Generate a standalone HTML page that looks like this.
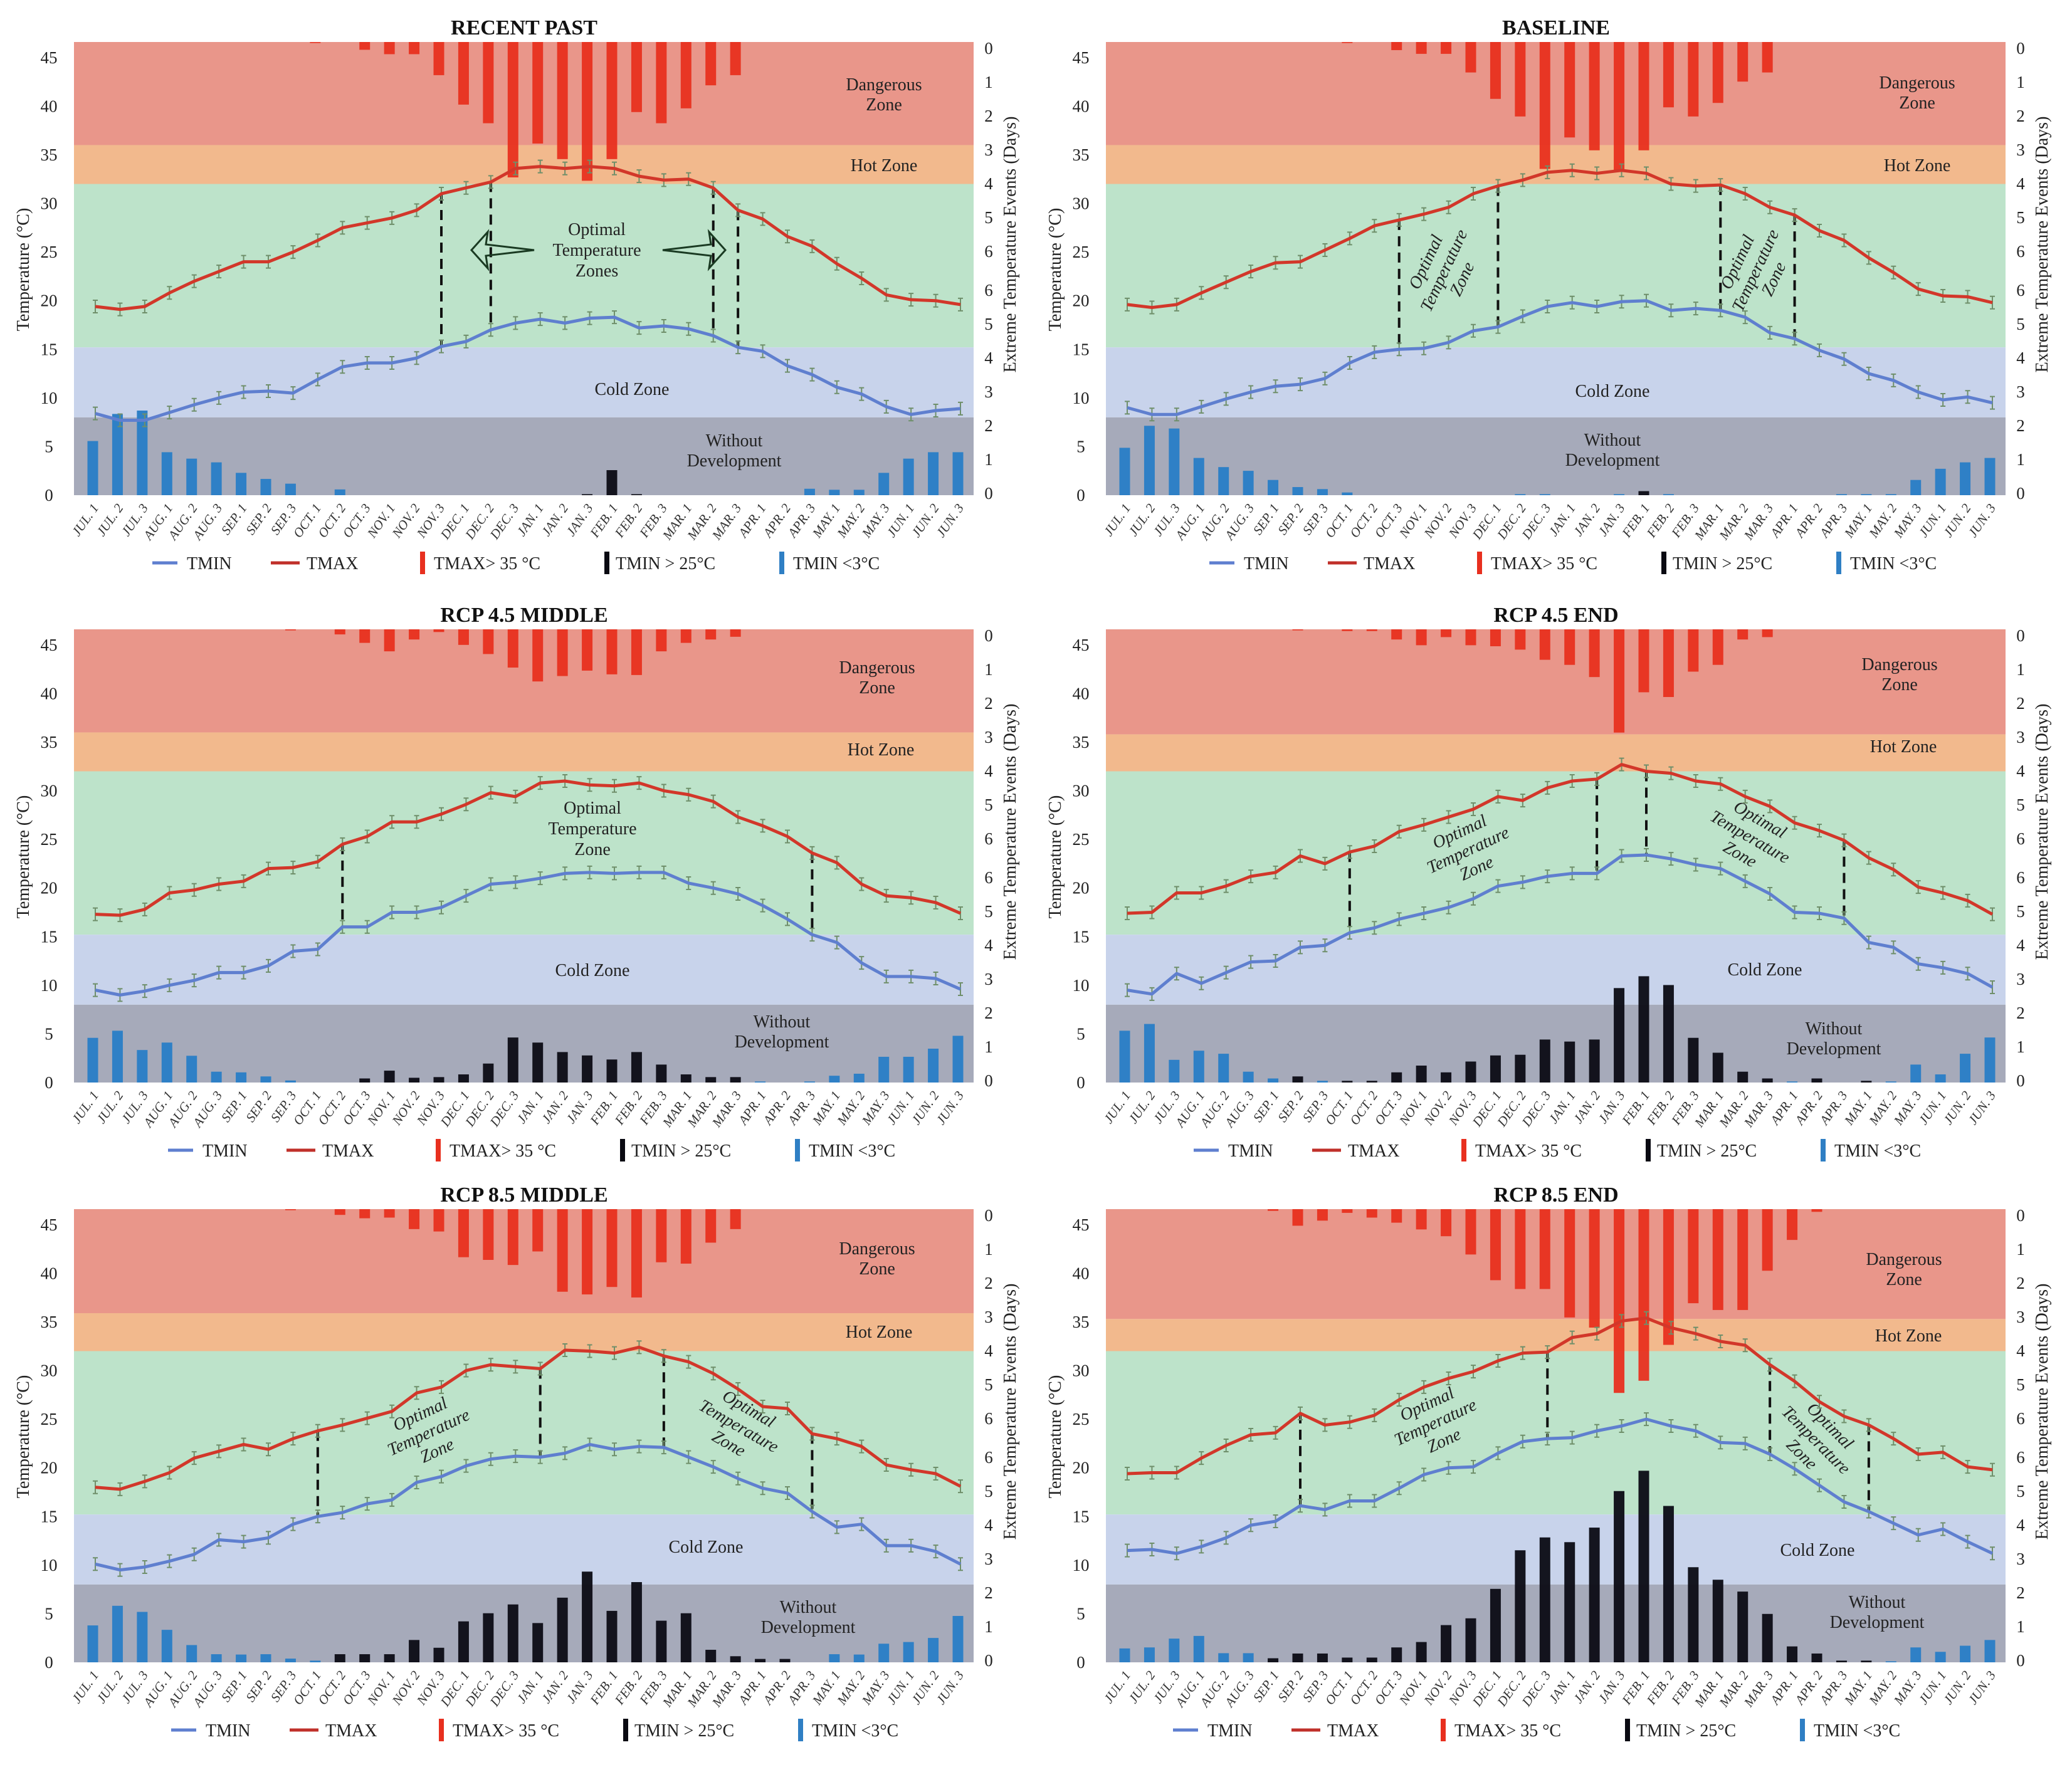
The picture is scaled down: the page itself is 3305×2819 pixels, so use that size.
<!DOCTYPE html>
<html><head><meta charset="utf-8"><style>
html,body{margin:0;padding:0;background:#fff;}
svg{display:block;font-family:"Liberation Serif",serif;}
</style></head><body>
<svg id="chart" width="3305" height="2819" viewBox="0 0 3305 2819" xmlns="http://www.w3.org/2000/svg"></svg>
<script>
const categories = ["JUL. 1","JUL. 2","JUL. 3","AUG. 1","AUG. 2","AUG. 3","SEP. 1","SEP. 2","SEP. 3","OCT. 1","OCT. 2","OCT. 3","NOV. 1","NOV. 2","NOV. 3","DEC. 1","DEC. 2","DEC. 3","JAN. 1","JAN. 2","JAN. 3","FEB. 1","FEB. 2","FEB. 3","MAR. 1","MAR. 2","MAR. 3","APR. 1","APR. 2","APR. 3","MAY. 1","MAY. 2","MAY. 3","JUN. 1","JUN. 2","JUN. 3"];
const leftTicks = [0,5,10,15,20,25,30,35,40,45];
const rightTicks = [0,1,2,3,4,5,6];

const rp_tmax = [19.4,19.1,19.4,20.8,22,23,24,24,25,26.2,27.5,28,28.5,29.3,31,31.6,32.2,33.6,33.8,33.6,33.8,33.6,32.8,32.4,32.5,31.6,29.3,28.4,26.6,25.6,23.8,22.3,20.6,20.1,20,19.6];
const rp_tmin = [8.4,7.7,7.7,8.5,9.3,10,10.6,10.7,10.5,11.9,13.2,13.6,13.6,14.1,15.3,15.8,17,17.7,18.1,17.7,18.2,18.3,17.2,17.4,17.1,16.4,15.2,14.8,13.3,12.4,11.1,10.4,9.1,8.3,8.7,8.9];
const rp_hot = [0,0,0,0,0,0,0,0,0,0.03,0,0.23,0.36,0.36,0.98,1.85,2.4,4.0,3.0,3.46,4.1,3.46,2.07,2.4,1.96,1.28,0.98,0,0,0,0,0,0,0,0,0];
const rp_tn25 = [0,0,0,0,0,0,0,0,0,0,0,0,0,0,0,0,0,0,0,0,0.03,0.74,0.03,0,0,0,0,0,0,0,0,0,0,0,0,0];
const rp_tn3 = [1.6,2.4,2.5,1.27,1.08,0.97,0.66,0.48,0.34,0,0.17,0,0,0,0,0,0,0,0,0,0,0,0,0,0,0,0,0,0,0.19,0.16,0.16,0.66,1.08,1.27,1.27];

const bl_tmax = [19.6,19.3,19.6,20.8,21.9,23,23.9,24,25.2,26.4,27.7,28.3,28.9,29.6,31,31.8,32.4,33.2,33.4,33.1,33.4,33.1,32,31.8,31.9,31,29.6,28.8,27.2,26.2,24.4,22.9,21.2,20.5,20.4,19.8];
const bl_tmin = [9,8.3,8.3,9.1,9.9,10.6,11.2,11.4,12,13.6,14.7,15,15.1,15.7,16.9,17.3,18.4,19.4,19.8,19.4,19.9,20,19,19.2,19,18.3,16.7,16.1,14.9,14,12.5,11.8,10.6,9.8,10.1,9.5];
const bl_hot = [0,0,0,0,0,0,0,0,0,0.03,0,0.24,0.35,0.35,0.9,1.68,2.2,3.75,2.82,3.2,3.8,3.2,1.93,2.2,1.8,1.17,0.9,0,0,0,0,0,0,0,0,0];
const bl_tn25 = [0,0,0,0,0,0,0,0,0,0,0,0,0,0,0,0,0,0,0,0,0,0.12,0,0,0,0,0,0,0,0,0,0,0,0,0,0];
const bl_tn3 = [1.4,2.05,1.97,1.1,0.83,0.72,0.45,0.24,0.18,0.08,0,0,0,0,0,0,0.03,0.03,0,0,0.03,0,0.03,0,0,0,0,0,0,0.03,0.03,0.03,0.45,0.78,0.97,1.1];

const m45_tmax = [17.3,17.2,17.8,19.5,19.8,20.4,20.7,22,22.1,22.7,24.5,25.3,26.8,26.8,27.6,28.6,29.8,29.4,30.8,31,30.6,30.5,30.8,30,29.6,28.9,27.3,26.4,25.3,23.6,22.6,20.4,19.2,19,18.5,17.4];
const m45_tmin = [9.5,9,9.4,10,10.5,11.3,11.3,12,13.5,13.7,16,16,17.5,17.5,18,19.2,20.4,20.6,21,21.5,21.6,21.5,21.6,21.6,20.5,20,19.4,18.2,16.8,15.2,14.4,12.3,10.9,10.9,10.7,9.6];
const m45_hot = [0,0,0,0,0,0,0,0,0.03,0,0.15,0.4,0.65,0.3,0.08,0.46,0.73,1.13,1.54,1.38,1.22,1.33,1.35,0.65,0.4,0.3,0.22,0,0,0,0,0,0,0,0,0];
const m45_tn25 = [0,0,0,0,0,0,0,0,0,0,0,0.12,0.35,0.14,0.16,0.24,0.56,1.33,1.18,0.9,0.8,0.68,0.9,0.53,0.24,0.16,0.16,0,0,0,0,0,0,0,0,0];
const m45_tn3 = [1.32,1.53,0.96,1.18,0.79,0.32,0.3,0.18,0.06,0,0,0,0,0,0,0,0,0,0,0,0,0,0,0,0,0,0,0.03,0,0.03,0.2,0.26,0.76,0.76,1.0,1.38];

const e45_tmax = [17.4,17.5,19.5,19.5,20.2,21.2,21.6,23.3,22.5,23.7,24.3,25.8,26.5,27.3,28.1,29.4,29,30.3,31,31.2,32.7,32,31.8,31,30.7,29.4,28.4,26.7,25.9,24.9,23.1,21.9,20.1,19.5,18.7,17.3];
const e45_tmin = [9.5,9.1,11.2,10.2,11.3,12.4,12.5,13.9,14.1,15.4,15.9,16.8,17.4,18,18.9,20.2,20.6,21.2,21.5,21.5,23.3,23.4,23,22.4,22,20.7,19.4,17.5,17.4,16.9,14.4,13.9,12.2,11.8,11.2,9.8];
const e45_hot = [0,0,0,0,0,0,0,0.03,0,0.05,0.05,0.3,0.47,0.23,0.47,0.5,0.6,0.9,1.05,1.41,3.05,1.86,2.0,1.25,1.05,0.3,0.23,0,0,0,0,0,0,0,0,0];
const e45_tn25 = [0,0,0,0,0,0,0,0.18,0,0.05,0.05,0.3,0.5,0.3,0.62,0.8,0.82,1.27,1.21,1.27,2.79,3.14,2.88,1.32,0.88,0.32,0.12,0,0.12,0,0.05,0,0,0,0,0];
const e45_tn3 = [1.53,1.73,0.67,0.94,0.85,0.32,0.12,0,0.05,0,0,0,0,0,0,0,0,0,0,0,0,0,0,0,0,0,0,0.03,0,0,0,0.03,0.53,0.24,0.85,1.33];

const m85_tmax = [18,17.8,18.6,19.5,21,21.7,22.4,21.9,23,23.8,24.4,25.1,25.8,27.7,28.3,30,30.6,30.4,30.2,32.1,32,31.8,32.4,31.5,30.9,29.7,28.1,26.3,26.1,23.5,23,22.2,20.3,19.8,19.4,18.1];
const m85_tmin = [10.1,9.5,9.8,10.4,11.1,12.6,12.4,12.8,14.2,15,15.4,16.3,16.7,18.5,19.1,20.2,20.9,21.2,21.1,21.5,22.4,21.9,22.2,22.1,21.1,20.1,18.9,17.9,17.4,15.5,13.9,14.2,12,12,11.4,10.1];
const m85_hot = [0,0,0,0,0,0,0,0,0.03,0,0.17,0.27,0.25,0.59,0.66,1.42,1.5,1.65,1.25,2.44,2.52,2.3,2.61,1.57,1.61,0.99,0.59,0,0,0,0,0,0,0,0,0];
const m85_tn25 = [0,0,0,0,0,0,0,0,0,0,0.24,0.24,0.24,0.66,0.43,1.21,1.45,1.71,1.16,1.91,2.68,1.52,2.37,1.23,1.45,0.37,0.18,0.1,0.1,0,0,0,0,0,0,0];
const m85_tn3 = [1.09,1.67,1.49,0.96,0.51,0.24,0.23,0.24,0.11,0.05,0,0,0,0,0,0,0,0,0,0,0,0,0,0,0,0,0,0,0,0,0.24,0.23,0.55,0.6,0.72,1.37];

const e85_tmax = [19.4,19.5,19.5,21,22.3,23.4,23.6,25.6,24.4,24.7,25.4,27,28.3,29.2,29.9,31,31.8,31.9,33.4,33.8,35.1,35.4,34.4,33.8,33,32.6,30.6,28.9,26.8,25.3,24.4,23,21.4,21.6,20.1,19.8];
const e85_tmin = [11.5,11.6,11.2,11.9,12.8,14.1,14.5,16.1,15.7,16.6,16.6,17.9,19.3,20,20.1,21.5,22.7,23,23.1,23.8,24.3,25,24.3,23.8,22.6,22.5,21.4,19.9,18.2,16.5,15.5,14.3,13.1,13.7,12.4,11.2];
const e85_hot = [0,0,0,0,0,0,0.05,0.49,0.34,0.11,0.25,0.4,0.6,0.8,1.34,2.1,2.36,2.36,3.2,3.5,5.43,5.07,4.01,2.78,2.98,2.98,1.82,0.91,0.08,0,0,0,0,0,0,0];
const e85_tn25 = [0,0,0,0,0,0,0.12,0.26,0.26,0.14,0.14,0.44,0.6,1.1,1.3,2.17,3.31,3.69,3.55,3.98,5.06,5.66,4.62,2.81,2.44,2.09,1.43,0.47,0.26,0.05,0.05,0,0,0,0,0];
const e85_tn3 = [0.41,0.44,0.7,0.78,0.27,0.27,0,0,0,0,0,0,0,0,0,0,0,0,0,0,0,0,0,0,0,0,0,0,0,0,0,0.03,0.44,0.31,0.49,0.66];

const NS = "http://www.w3.org/2000/svg";
const svg = document.getElementById('chart');
function el(tag, attrs, parent){const e=document.createElementNS(NS,tag);for(const k in attrs)e.setAttribute(k,attrs[k]);(parent||svg).appendChild(e);return e;}

const X0=118, X1=1553, Y0=67, Y1=790, TMAXDOMAIN=46.6, DAYPX=54;
const xFirst=X0+34, xLast=X1-21;
function xs(i){return xFirst+i*(xLast-xFirst)/(categories.length-1);}
function ys(v){return Y1-(v/TMAXDOMAIN)*(Y1-Y0);}
function dTop(d){return d*DAYPX;}

const panels = [
 {ox:0,oy:0,title:'RECENT PAST',tmax:rp_tmax,tmin:rp_tmin,hot:rp_hot,tn25:rp_tn25,tn3:rp_tn3,dz:36,dash:[14,16,25,26],
  lab:{dg:[1410,144],hot:[1410,264],cold:[1008,621],wd:[1171,703]},opt:{type:'arrows',x:952,y:366},leg:0},
 {ox:1646,oy:0,title:'BASELINE',tmax:bl_tmax,tmin:bl_tmin,hot:bl_hot,tn25:bl_tn25,tn3:bl_tn3,dz:36,dash:[11,15,24,27],
  lab:{dg:[1412,141],hot:[1412,264],cold:[926,624],wd:[926,702]},opt:{type:'rot',pts:[[658,432,-65],[1155,432,-65]]},leg:40},
 {ox:0,oy:937,title:'RCP 4.5 MIDDLE',tmax:m45_tmax,tmin:m45_tmin,hot:m45_hot,tn25:m45_tn25,tn3:m45_tn3,dz:36,dash:[10,29],
  lab:{dg:[1399,137],hot:[1405,259],cold:[945,611],wd:[1247,693]},opt:{type:'flat',x:945,y:352},leg:25},
 {ox:1646,oy:937,title:'RCP 4.5 END',tmax:e45_tmax,tmin:e45_tmin,hot:e45_hot,tn25:e45_tn25,tn3:e45_tn3,dz:35.8,dash:[9,19,21,29],
  lab:{dg:[1384,132],hot:[1390,254],cold:[1169,610],wd:[1279,704]},opt:{type:'rot',pts:[[696,420,-25],[1145,399,30]]},leg:15},
 {ox:0,oy:1862,title:'RCP 8.5 MIDDLE',tmax:m85_tmax,tmin:m85_tmin,hot:m85_hot,tn25:m85_tn25,tn3:m85_tn3,dz:35.9,dash:[9,18,23,29],
  lab:{dg:[1399,139],hot:[1402,263],cold:[1126,606],wd:[1289,702]},opt:{type:'rot',pts:[[684,424,-25],[1178,414,30]]},leg:30},
 {ox:1646,oy:1862,title:'RCP 8.5 END',tmax:e85_tmax,tmin:e85_tmin,hot:e85_hot,tn25:e85_tn25,tn3:e85_tn3,dz:35.3,dash:[7,17,26,30],
  lab:{dg:[1391,156],hot:[1398,269],cold:[1253,611],wd:[1348,694]},opt:{type:'rot',pts:[[644,408,-25],[1250,436,45]]},leg:-18}
];

function txt(g,x,y,s,size,extra){const t=el('text',Object.assign({x:x,y:y,'font-size':size,fill:'#222','text-anchor':'middle'},extra||{}),g);t.textContent=s;return t;}

panels.forEach((p,pi)=>{
  const g=el('g',{transform:`translate(${p.ox},${p.oy})`});
  
  
  const tt=txt(g,836,55,p.title,34,{'font-weight':'bold',fill:'#111'});
  
  
  // zones (opaque)
  const zones=[['dangerous-zone',TMAXDOMAIN,p.dz,'#e9968a'],['hot-zone',p.dz,32,'#f2b98d'],['optimal-zone',32,15.2,'#bde3ca'],['cold-zone',15.2,8,'#c8d3eb'],['without-development-zone',8,0,'#a6aaba']];
  zones.forEach(z=>{const r=el('rect',{x:X0,y:ys(z[1]),width:X1-X0,height:ys(z[2])-ys(z[1]),fill:z[3]},g);
    
    });
  const bw=17;
  p.hot.forEach((d,i)=>{ if(d<=0)return;
    const r=el('rect',{x:xs(i)-bw/2-4,y:Y0,width:bw,height:dTop(d),fill:'#e8301f','fill-opacity':0.95},g);
    
    });
  p.tn25.forEach((d,i)=>{ if(d<=0)return;
    const r=el('rect',{x:xs(i)-bw/2-4,y:Y1-dTop(d),width:bw,height:dTop(d),fill:'#0b0b14','fill-opacity':0.95},g);
    
    });
  p.tn3.forEach((d,i)=>{ if(d<=0)return;
    const r=el('rect',{x:xs(i)-bw/2-4,y:Y1-dTop(d),width:bw,height:dTop(d),fill:'#2f80c6'},g);
    
    });
  const L=p.lab, zs=28;
  let t;
  t=txt(g,L.dg[0],L.dg[1],'Dangerous',zs);  
  t=txt(g,L.dg[0],L.dg[1]+32,'Zone',zs);  
  t=txt(g,L.hot[0],L.hot[1]+9,'Hot Zone',zs);  
  t=txt(g,L.cold[0],L.cold[1]+9,'Cold Zone',zs);  
  t=txt(g,L.wd[0],L.wd[1]+9,'Without',zs);  
  t=txt(g,L.wd[0],L.wd[1]+41,'Development',zs);  
  p.dash.forEach(i=>{const l=el('line',{x1:xs(i),x2:xs(i),y1:ys(p.tmax[i]),y2:ys(p.tmin[i]),stroke:'#111','stroke-width':4,'stroke-dasharray':'16 10'},g);
    
    });
  const o=p.opt;
  if(o.type==='arrows'||o.type==='flat'){
    const lines=o.type==='arrows'?['Optimal','Temperature','Zones']:['Optimal','Temperature','Zone'];
    lines.forEach((s,k)=>{t=txt(g,o.x,o.y+9+k*33,s,28);});
    if(o.type==='arrows'){
      const a1=el('polygon',{points:'752,399 778,370 775,390 852,399 775,408 778,428',fill:'none',stroke:'#1a3a22','stroke-width':3},g);
      
      
      const a2=el('polygon',{points:'1157,399 1131,370 1134,390 1057,399 1134,408 1131,428',fill:'none',stroke:'#1a3a22','stroke-width':3},g);
      
      
    }
  } else {
    o.pts.forEach(q=>{const gg=el('g',{transform:`translate(${q[0]},${q[1]}) rotate(${q[2]})`},g);
      
      
      ['Optimal','Temperature','Zone'].forEach((s,k)=>{txt(gg,0,-24+k*32,s,28,{'font-style':'italic'});});});
  }
  [['tmin',p.tmin,'#5f7fcf'],['tmax',p.tmax,'#d2372a']].forEach(ser=>{
    const pts=ser[1].map((v,i)=>xs(i)+','+ys(v)).join(' ');
    ser[1].forEach((v,i)=>{const e=el('path',{d:`M${xs(i)},${ys(v)-10}V${ys(v)+10}M${xs(i)-4},${ys(v)-10}h8M${xs(i)-4},${ys(v)+10}h8`,stroke:'#6f8f6a','stroke-width':2,fill:'none'},g);
      
      });
    const pl=el('polyline',{points:pts,fill:'none',stroke:ser[2],'stroke-width':5,'stroke-linejoin':'round'},g);
    
    
  });
  leftTicks.forEach(v=>{t=txt(g,78,ys(v)+9,String(v),27);});
  rightTicks.forEach(v=>{t=txt(g,1577,Y0+10+dTop(v)+9,String(v),27);
    t=txt(g,1577,Y1-dTop(v)+6,String(v),27);});
  t=txt(g,0,0,'Temperature (°C)',28,{transform:`translate(46,430) rotate(-90)`});
   
  t=txt(g,0,0,'Extreme Temperature Events (Days)',28,{transform:`translate(1620,390) rotate(-90)`});
   
  categories.forEach((c,i)=>{t=txt(g,0,0,c,21,{'text-anchor':'end',fill:'#333','font-style':'italic',transform:`translate(${xs(i)+6},${Y1+20}) rotate(-55)`});
     });
  const lg=el('g',{transform:`translate(${p.leg},0)`},g);
  
  
  let li;
  li=el('line',{x1:243,x2:283,y1:898,y2:898,stroke:'#5f7fcf','stroke-width':5},lg);  
  t=txt(lg,298,908,'TMIN',28,{'text-anchor':'start'});  
  li=el('line',{x1:432,x2:478,y1:898,y2:898,stroke:'#c0302a','stroke-width':5},lg);  
  t=txt(lg,489,908,'TMAX',28,{'text-anchor':'start'});  
  li=el('rect',{x:670,y:880,width:8,height:36,fill:'#e8301f'},lg);  
  t=txt(lg,692,908,'TMAX> 35 °C',28,{'text-anchor':'start'});  
  li=el('rect',{x:964,y:880,width:8,height:36,fill:'#0a0a12'},lg);  
  t=txt(lg,982,908,'TMIN > 25°C',28,{'text-anchor':'start'});  
  li=el('rect',{x:1243,y:880,width:8,height:36,fill:'#2f7fc4'},lg);  
  t=txt(lg,1265,908,'TMIN <3°C',28,{'text-anchor':'start'});  
});
</script>
</body></html>
